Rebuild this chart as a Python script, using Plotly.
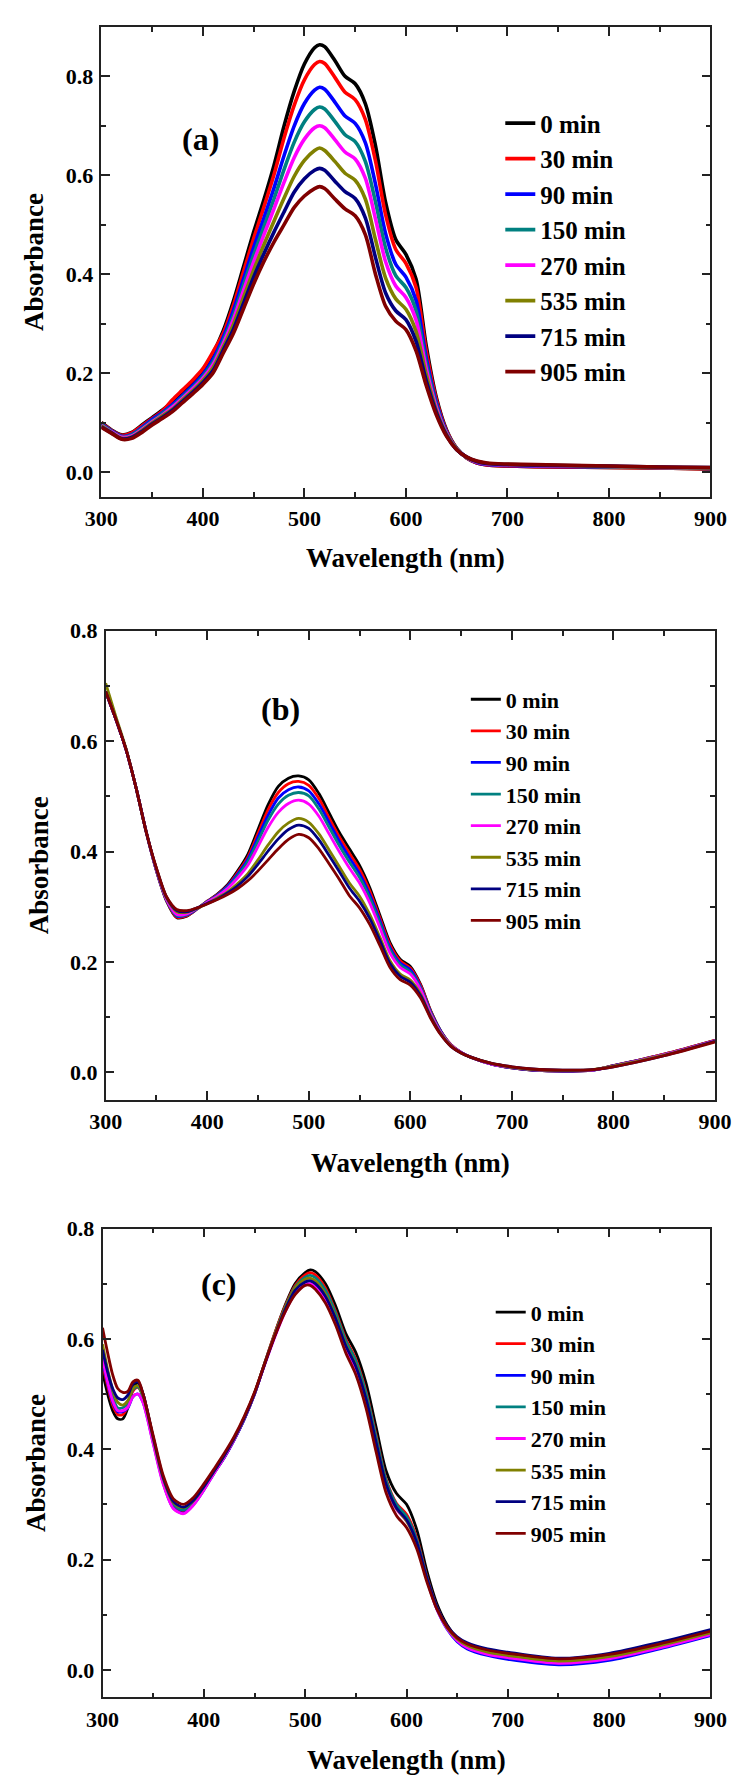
import plotly.graph_objects as go

# ---------------- data ----------------
series_names = ["0 min", "30 min", "90 min", "150 min", "270 min", "535 min", "715 min", "905 min"]
series_colors = ["#000000", "#FF0000", "#0000FF", "#008080", "#FF00FF", "#808000", "#000080", "#800000"]

# Panel (a)
wl_a = [300, 310, 320, 330, 340, 350, 360, 370, 380, 390, 400, 410, 420, 430, 440, 450, 460, 470, 480, 490,
        500, 510, 515, 520, 530, 540, 550, 560, 570, 580, 590, 600, 610, 620, 630, 640, 650, 660, 670, 680,
        700, 750, 800, 850, 900]
a_0 = [.100, .085, .075, .080, .095, .110, .125, .142, .162, .182, .205, .240, .285, .345, .415, .485, .550, .620, .700, .770,
       .825, .858, .864, .860, .832, .800, .785, .745, .660, .545, .470, .440, .390, .255, .150, .085, .048, .028, .018, .014,
       .012, .010, .009, .008, .006]
a_30 = [.099, .084, .074, .079, .093, .108, .123, .146, .166, .186, .209, .243, .280, .337, .405, .472, .535, .601, .676, .742,
        .793, .824, .830, .826, .798, .768, .753, .713, .629, .520, .450, .422, .373, .245, .146, .083, .048, .028, .018, .014,
        .012, .010, .009, .008, .006]
a_90 = [.097, .083, .072, .076, .090, .106, .120, .136, .155, .175, .197, .228, .272, .326, .390, .454, .513, .574, .640, .700,
        .745, .772, .778, .774, .748, .720, .705, .666, .582, .482, .420, .394, .347, .231, .140, .081, .047, .029, .019, .015,
        .013, .011, .010, .009, .007]
a_150 = [.096, .082, .071, .075, .088, .103, .118, .133, .152, .171, .193, .222, .265, .316, .378, .439, .495, .552, .612, .667,
         .708, .733, .738, .734, .709, .682, .668, .628, .546, .453, .397, .373, .326, .220, .135, .079, .047, .029, .020, .016,
         .014, .012, .010, .009, .007]
a_270 = [.094, .081, .070, .073, .086, .101, .115, .131, .149, .168, .189, .217, .259, .308, .367, .425, .479, .532, .586, .636,
         .673, .696, .700, .696, .672, .647, .633, .594, .512, .425, .376, .353, .307, .209, .130, .078, .046, .029, .020, .016,
         .014, .012, .011, .009, .008]
a_535 = [.093, .080, .068, .071, .084, .099, .113, .127, .146, .164, .185, .211, .252, .298, .353, .408, .459, .507, .554, .598,
         .630, .650, .655, .650, .628, .604, .590, .552, .470, .392, .350, .329, .284, .197, .124, .076, .046, .029, .021, .017,
         .015, .013, .011, .009, .008]
a_715 = [.091, .079, .067, .070, .082, .097, .110, .125, .143, .161, .181, .205, .246, .288, .341, .394, .441, .485, .526, .566,
         .593, .610, .614, .610, .588, .567, .553, .514, .434, .362, .326, .308, .264, .185, .120, .074, .045, .030, .021, .017,
         .015, .013, .012, .010, .009]
a_905 = [.090, .078, .066, .068, .080, .095, .108, .122, .140, .158, .177, .200, .240, .280, .330, .380, .425, .465, .500, .535,
         .558, .573, .577, .573, .552, .532, .518, .480, .400, .335, .305, .288, .245, .175, .115, .072, .045, .030, .022, .018,
         .016, .014, .012, .010, .009]

# Panel (b)
wl_b = [300, 310, 320, 330, 340, 350, 360, 370, 380, 390, 400, 410, 420, 430, 440, 450, 460, 470, 480, 490,
        500, 510, 520, 530, 540, 550, 560, 570, 580, 590, 600, 610, 620, 630, 640, 650, 660, 680, 700, 720,
        750, 780, 800, 850, 900]
b_0 = [.690, .640, .585, .515, .435, .365, .310, .280, .283, .296, .310, .323, .340, .365, .395, .440, .485, .518, .533, .537,
       .530, .505, .470, .435, .405, .375, .335, .285, .235, .205, .192, .160, .112, .075, .050, .036, .027, .015, .008, .004,
       .002, .004, .012, .033, .058]
b_30 = [.690, .640, .585, .515, .435, .365, .311, .281, .284, .296, .310, .322, .338, .362, .390, .433, .476, .507, .523, .527,
        .520, .496, .461, .427, .397, .368, .329, .280, .231, .202, .189, .158, .111, .074, .050, .036, .027, .015, .008, .004,
        .002, .004, .012, .033, .058]
b_90 = [.690, .640, .585, .515, .435, .366, .312, .283, .285, .296, .309, .321, .337, .359, .386, .426, .466, .497, .512, .517,
        .510, .486, .453, .419, .389, .360, .322, .275, .226, .198, .186, .155, .109, .074, .049, .036, .027, .015, .008, .004,
        .002, .004, .012, .032, .057]
b_150 = [.690, .640, .585, .515, .435, .366, .312, .284, .286, .297, .309, .320, .335, .356, .382, .419, .457, .486, .502, .507,
         .501, .477, .444, .411, .381, .353, .316, .270, .222, .195, .182, .153, .108, .073, .049, .036, .027, .015, .009, .005,
         .003, .004, .011, .032, .057]
b_270 = [.690, .640, .585, .515, .435, .367, .313, .286, .287, .297, .308, .319, .333, .352, .375, .409, .444, .471, .487, .493,
         .486, .464, .432, .400, .370, .343, .307, .262, .216, .190, .178, .150, .106, .072, .049, .036, .027, .015, .009, .005,
         .003, .004, .011, .032, .057]
b_535 = [.705, .645, .587, .515, .435, .369, .316, .291, .290, .297, .306, .316, .327, .342, .360, .385, .412, .436, .452, .460,
         .453, .432, .403, .373, .343, .319, .286, .245, .202, .178, .167, .142, .102, .070, .048, .035, .027, .016, .009, .005,
         .003, .005, .011, .031, .056]
b_715 = [.690, .640, .585, .515, .435, .369, .317, .293, .291, .298, .306, .314, .325, .338, .355, .377, .401, .423, .440, .448,
         .442, .421, .393, .364, .334, .310, .279, .239, .197, .174, .163, .139, .100, .069, .047, .035, .027, .016, .010, .006,
         .004, .005, .010, .030, .056]
b_905 = [.690, .640, .585, .515, .435, .370, .318, .295, .293, .298, .305, .313, .322, .333, .347, .365, .385, .405, .422, .431,
         .425, .405, .378, .350, .320, .298, .268, .230, .190, .168, .158, .135, .098, .068, .047, .035, .027, .016, .010, .006,
         .004, .005, .010, .030, .055]

# Panel (c)
wl_c = [300, 305, 310, 315, 320, 325, 330, 335, 340, 350, 360, 370, 380, 390, 400, 410, 420, 430, 440, 450,
        460, 470, 480, 490, 500, 505, 510, 520, 530, 540, 550, 560, 570, 580, 590, 600, 610, 620, 630, 640,
        650, 660, 680, 700, 750, 800, 850, 900]
c_0 = [.540, .500, .470, .455, .455, .475, .510, .520, .500, .420, .345, .302, .292, .305, .330, .358, .385, .418, .455, .500,
       .555, .610, .660, .700, .720, .725, .722, .700, .660, .610, .575, .520, .440, .360, .320, .300, .255, .180, .120, .082,
       .058, .045, .033, .027, .015, .025, .045, .068]
c_30 = [.555, .515, .480, .463, .463, .478, .505, .512, .495, .418, .343, .298, .288, .302, .328, .357, .385, .418, .456, .501,
        .556, .610, .658, .696, .716, .720, .716, .692, .650, .600, .563, .505, .425, .345, .302, .282, .240, .170, .114, .078,
        .055, .042, .030, .024, .013, .022, .042, .065]
c_90 = [.560, .520, .485, .468, .468, .475, .495, .500, .485, .412, .338, .293, .284, .300, .326, .356, .384, .417, .455, .500,
        .555, .606, .652, .688, .703, .705, .700, .676, .636, .587, .550, .492, .413, .336, .294, .273, .232, .165, .110, .074,
        .051, .038, .026, .019, .009, .017, .038, .062]
c_150 = [.575, .530, .495, .475, .475, .485, .508, .513, .495, .418, .344, .300, .290, .304, .329, .358, .386, .419, .456, .500,
         .555, .608, .656, .694, .712, .715, .711, .688, .647, .597, .560, .502, .422, .343, .300, .278, .237, .168, .113, .077,
         .055, .042, .030, .024, .013, .022, .042, .065]
c_270 = [.565, .522, .488, .470, .470, .476, .495, .500, .484, .410, .336, .292, .283, .299, .326, .356, .385, .418, .456, .500,
         .553, .603, .648, .682, .698, .700, .695, .671, .631, .582, .545, .487, .408, .332, .291, .270, .230, .164, .110, .075,
         .053, .040, .028, .022, .012, .020, .040, .064]
c_535 = [.590, .545, .508, .485, .480, .488, .510, .515, .497, .420, .346, .303, .294, .307, .332, .360, .388, .420, .458, .502,
         .556, .608, .655, .692, .708, .710, .705, .681, .640, .590, .552, .493, .413, .336, .293, .270, .230, .165, .112, .077,
         .056, .044, .032, .026, .016, .024, .044, .067]
c_715 = [.580, .540, .510, .493, .490, .498, .518, .522, .500, .422, .348, .305, .295, .308, .332, .360, .388, .420, .457, .501,
         .554, .605, .652, .688, .703, .705, .700, .677, .637, .588, .550, .492, .413, .336, .294, .272, .232, .167, .114, .080,
         .060, .049, .038, .032, .021, .030, .050, .073]
c_905 = [.620, .575, .535, .510, .503, .505, .522, .525, .500, .425, .352, .310, .300, .313, .337, .364, .392, .423, .460, .503,
         .555, .605, .648, .680, .697, .697, .690, .665, .625, .575, .535, .475, .395, .320, .280, .258, .220, .160, .110, .078,
         .058, .047, .036, .030, .020, .028, .047, .070]

x_ticks = [300, 400, 500, 600, 700, 800, 900]
y_ticks = [0.0, 0.2, 0.4, 0.6, 0.8]

panels = [
    dict(key="a", wl=wl_a, ys=[a_0, a_30, a_90, a_150, a_270, a_535, a_715, a_905], yrange=[-0.05, 0.9]),
    dict(key="b", wl=wl_b, ys=[b_0, b_30, b_90, b_150, b_270, b_535, b_715, b_905], yrange=[-0.05, 0.8]),
    dict(key="c", wl=wl_c, ys=[c_0, c_30, c_90, c_150, c_270, c_535, c_715, c_905], yrange=[-0.05, 0.8]),
]

# ---------------- layout (pixel geometry) ----------------
W, H = 746, 1776
boxes = [  # left, right, top, bottom in px
    (89.2, 725.6, 15.0, 488.0),
    (93.7, 730.3, 623.0, 1095.3),
    (90.4, 725.6, 1224.8, 1696.9),
]
line_widths = [3.6, 2.8, 2.8]
legend_font = [25, 22, 22]
legend_pos = [(506, 89), (470, 671), (496, 1288)]  # left, top px
label_pos = [(193, 128), (276, 702), (212, 1281)]
ytitle_x = [19, 24, 21]
xtitle_dy = [62, 64, 63]

FONT = "Liberation Serif, Times New Roman, serif"

fig = go.Figure()
annotations = []
for i, p in enumerate(panels):
    sfx = "" if i == 0 else str(i + 1)
    for name, color, yv in zip(series_names, series_colors, p["ys"]):
        fig.add_trace(go.Scatter(
            x=p["wl"], y=yv, name=name, mode="lines",
            line=dict(color=color, width=line_widths[i], shape="spline", smoothing=0.8),
            xaxis="x" + sfx, yaxis="y" + sfx,
            legend="legend" + sfx,
        ))
    l, r, t, b = boxes[i]
    axis_common = dict(
        showline=True, linecolor="#222222", linewidth=1.6, mirror="ticks",
        ticks="inside", ticklen=9, tickwidth=1.6, tickcolor="#222222",
        showgrid=False, zeroline=False,
        tickfont=dict(family=FONT, size=22, color="#000000", weight="bold"),
    )
    fig.update_layout(**{
        "xaxis" + sfx: dict(
            domain=[l / W, r / W], anchor="y" + sfx, range=[300, 900],
            tickmode="array", tickvals=x_ticks, ticktext=[str(v) for v in x_ticks],
            minor=dict(ticks="inside", ticklen=5, tickwidth=1.6, tickcolor="#222222", dtick=50, tick0=300),
            ticklabelstandoff=1,
            **axis_common),
        "yaxis" + sfx: dict(
            domain=[1 - b / H, 1 - t / H], anchor="x" + sfx, range=p["yrange"],
            tickmode="array", tickvals=y_ticks, ticktext=[f"{v:.1f}" for v in y_ticks],
            minor=dict(ticks="inside", ticklen=5, tickwidth=1.6, tickcolor="#222222", dtick=0.1, tick0=0),
            ticklabelstandoff=2,
            **axis_common),
        "legend" + sfx: dict(
            x=legend_pos[i][0] / W, y=1 - legend_pos[i][1] / H, xanchor="left", yanchor="top",
            xref="paper", yref="paper",
            bgcolor="rgba(0,0,0,0)", borderwidth=0, itemwidth=30,
            font=dict(family=FONT, size=legend_font[i], color="#000000", weight="bold"),
            tracegroupgap=0,
        ),
    })
    annotations.append(dict(
        text=f"({p['key']})", x=label_pos[i][0] / W, y=1 - label_pos[i][1] / H,
        xref="paper", yref="paper", showarrow=False, xanchor="center", yanchor="middle",
        font=dict(family=FONT, size=32, color="#000000", weight="bold")))
    annotations.append(dict(
        text="Wavelength (nm)", x=(l + r) / 2 / W, y=1 - (b + xtitle_dy[i]) / H,
        xref="paper", yref="paper", showarrow=False, xanchor="center", yanchor="middle",
        font=dict(family=FONT, size=27, color="#000000", weight="bold")))
    annotations.append(dict(
        text="Absorbance", x=ytitle_x[i] / W, y=1 - (t + b) / 2 / H, textangle=-90,
        xref="paper", yref="paper", showarrow=False, xanchor="center", yanchor="middle",
        font=dict(family=FONT, size=27, color="#000000", weight="bold")))

fig.update_layout(
    width=W, height=H, margin=dict(l=0, r=0, t=0, b=0),
    paper_bgcolor="white", plot_bgcolor="white",
    annotations=annotations, showlegend=True,
)

fig.write_html("out.html")
